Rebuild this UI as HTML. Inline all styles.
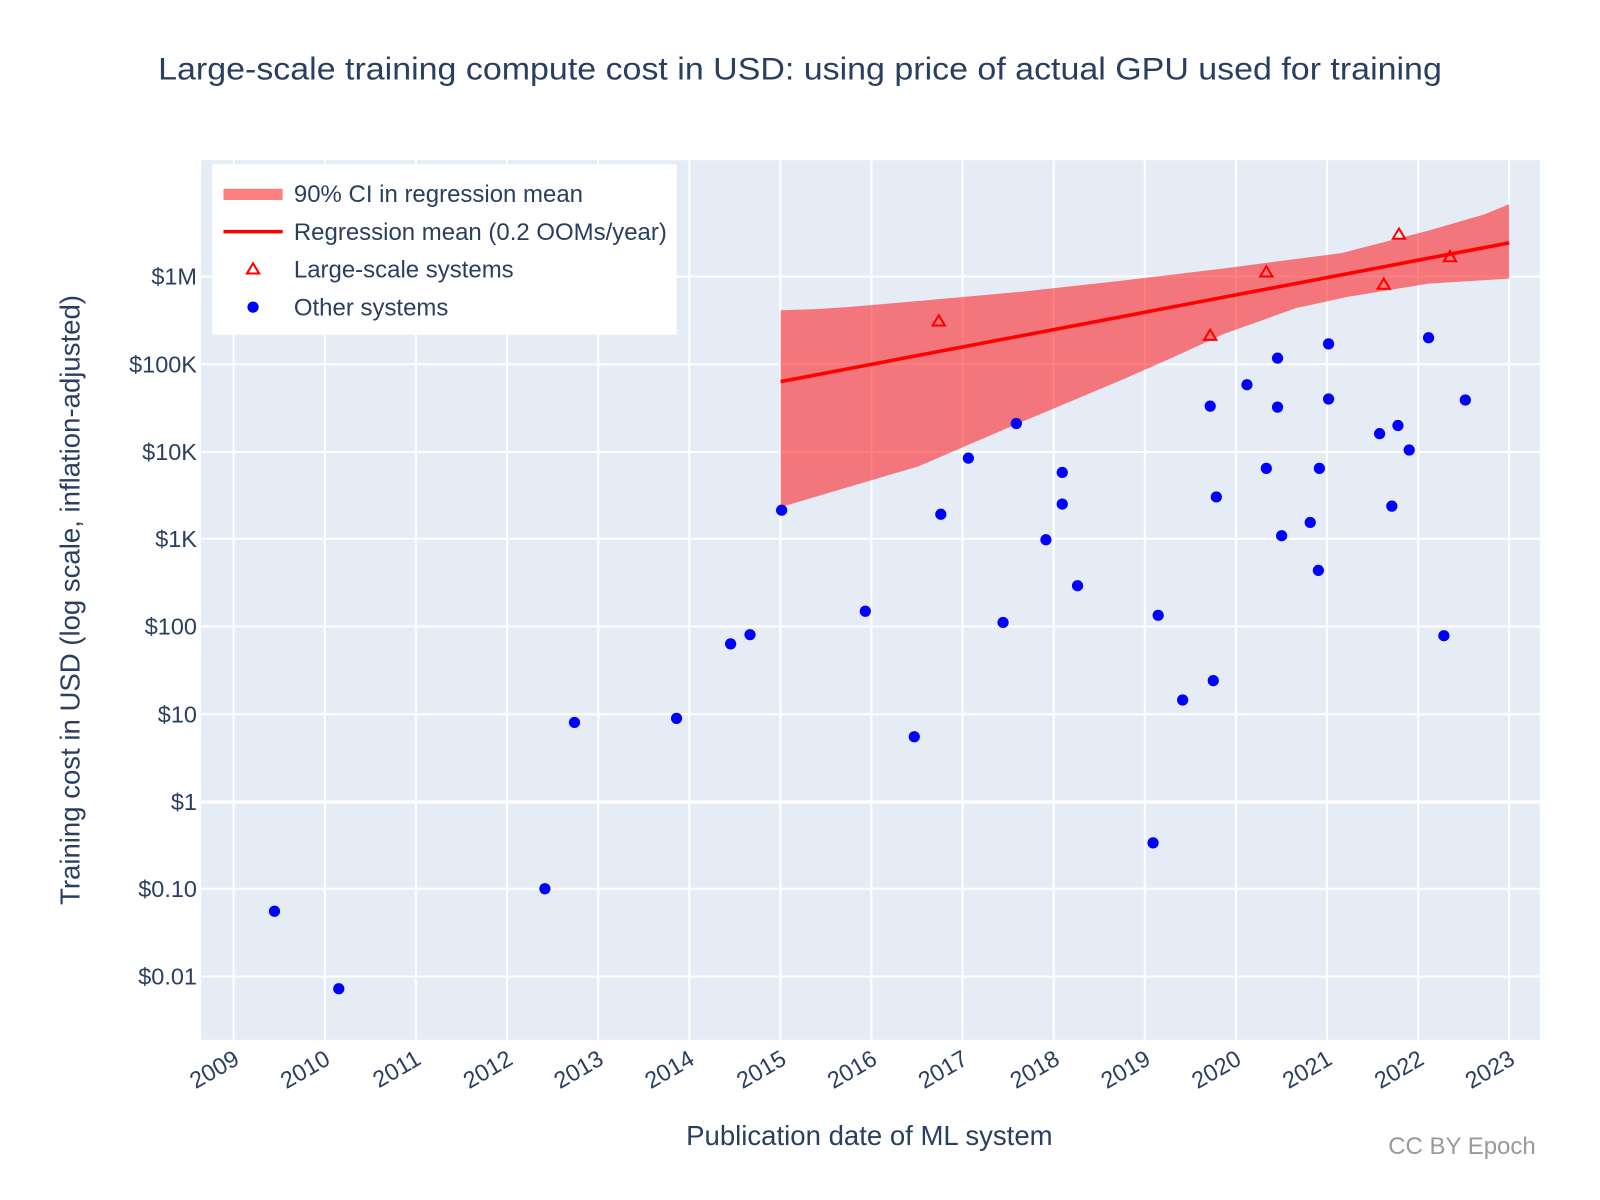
<!DOCTYPE html>
<html><head><meta charset="utf-8"><style>html,body{margin:0;padding:0;background:#fff}svg{display:block}</style></head>
<body>
<svg width="1600" height="1200" viewBox="0 0 1568 1176" xmlns="http://www.w3.org/2000/svg" font-family="Liberation Sans, Arial, sans-serif">
<rect x="0" y="0" width="1568" height="1176" fill="#fff"/>
<text x="784" y="78" text-anchor="middle" font-size="31" fill="#2a3f5f" textLength="1258" lengthAdjust="spacingAndGlyphs">Large-scale training compute cost in USD: using price of actual GPU used for training</text>
<rect x="197" y="157" width="1312" height="862" fill="#e5ecf6"/>
<g stroke="#fff" stroke-width="2">
<line x1="229" y1="157" x2="229" y2="1019"/><line x1="318.3" y1="157" x2="318.3" y2="1019"/><line x1="407.6" y1="157" x2="407.6" y2="1019"/><line x1="496.9" y1="157" x2="496.9" y2="1019"/><line x1="586.2" y1="157" x2="586.2" y2="1019"/><line x1="675.5" y1="157" x2="675.5" y2="1019"/><line x1="764.7" y1="157" x2="764.7" y2="1019"/><line x1="854" y1="157" x2="854" y2="1019"/><line x1="943.3" y1="157" x2="943.3" y2="1019"/><line x1="1032.6" y1="157" x2="1032.6" y2="1019"/><line x1="1121.9" y1="157" x2="1121.9" y2="1019"/><line x1="1211.2" y1="157" x2="1211.2" y2="1019"/><line x1="1300.5" y1="157" x2="1300.5" y2="1019"/><line x1="1389.8" y1="157" x2="1389.8" y2="1019"/><line x1="1479" y1="157" x2="1479" y2="1019"/>
<line x1="197" y1="271" x2="1509" y2="271"/><line x1="197" y1="357" x2="1509" y2="357"/><line x1="197" y1="443" x2="1509" y2="443"/><line x1="197" y1="528" x2="1509" y2="528"/><line x1="197" y1="614" x2="1509" y2="614"/><line x1="197" y1="700" x2="1509" y2="700"/><line x1="197" y1="786" x2="1509" y2="786" stroke-width="3"/><line x1="197" y1="871" x2="1509" y2="871"/><line x1="197" y1="957" x2="1509" y2="957"/>
</g>
<g font-size="23" fill="#2a3f5f" text-anchor="end">
<text x="193" y="279">$1M</text><text x="193" y="365">$100K</text><text x="193" y="451">$10K</text><text x="193" y="536">$1K</text><text x="193" y="622">$100</text><text x="193" y="708">$10</text><text x="193" y="794">$1</text><text x="193" y="879">$0.10</text><text x="193" y="965">$0.01</text>
</g>
<g font-size="23" fill="#2a3f5f" text-anchor="end">
<text transform="translate(236,1042) rotate(-30)">2009</text>
<text transform="translate(325,1042) rotate(-30)">2010</text>
<text transform="translate(414,1042) rotate(-30)">2011</text>
<text transform="translate(504,1042) rotate(-30)">2012</text>
<text transform="translate(593,1042) rotate(-30)">2013</text>
<text transform="translate(682,1042) rotate(-30)">2014</text>
<text transform="translate(772,1042) rotate(-30)">2015</text>
<text transform="translate(861,1042) rotate(-30)">2016</text>
<text transform="translate(950,1042) rotate(-30)">2017</text>
<text transform="translate(1040,1042) rotate(-30)">2018</text>
<text transform="translate(1129,1042) rotate(-30)">2019</text>
<text transform="translate(1218,1042) rotate(-30)">2020</text>
<text transform="translate(1307,1042) rotate(-30)">2021</text>
<text transform="translate(1397,1042) rotate(-30)">2022</text>
<text transform="translate(1486,1042) rotate(-30)">2023</text>
</g>
<text transform="translate(78,588) rotate(-90)" text-anchor="middle" font-size="27" fill="#2a3f5f">Training cost in USD (log scale, inflation-adjusted)</text>
<text x="852" y="1122" text-anchor="middle" font-size="27" fill="#2a3f5f">Publication date of ML system</text>
<text x="1505" y="1131" text-anchor="end" font-size="23.5" fill="#999">CC BY Epoch</text>
<polygon fill="#ff0000" fill-opacity="0.5" points="765,304 800,303 830,301 900,295 1000,286 1100,275 1200,263 1315,248 1400,226 1455,210 1479,200 1479,273 1400,278 1320,291 1270,302 1200,327 1150,350 1100,372 1000,414 900,457 765,497"/>
<line x1="765" y1="374" x2="1479" y2="238" stroke="#ff0000" stroke-width="3.5"/>
<g fill="#0000ff">
<circle cx="269" cy="893" r="5.5"/><circle cx="332" cy="969" r="5.5"/><circle cx="534" cy="871" r="5.5"/><circle cx="563" cy="708" r="5.5"/><circle cx="663" cy="704" r="5.5"/><circle cx="716" cy="631" r="5.5"/><circle cx="735" cy="622" r="5.5"/><circle cx="766" cy="500" r="5.5"/><circle cx="848" cy="599" r="5.5"/><circle cx="896" cy="722" r="5.5"/><circle cx="922" cy="504" r="5.5"/><circle cx="949" cy="449" r="5.5"/><circle cx="983" cy="610" r="5.5"/><circle cx="996" cy="415" r="5.5"/><circle cx="1025" cy="529" r="5.5"/><circle cx="1041" cy="463" r="5.5"/><circle cx="1041" cy="494" r="5.5"/><circle cx="1056" cy="574" r="5.5"/><circle cx="1130" cy="826" r="5.5"/><circle cx="1135" cy="603" r="5.5"/><circle cx="1159" cy="686" r="5.5"/><circle cx="1186" cy="398" r="5.5"/><circle cx="1189" cy="667" r="5.5"/><circle cx="1192" cy="487" r="5.5"/><circle cx="1222" cy="377" r="5.5"/><circle cx="1241" cy="459" r="5.5"/><circle cx="1252" cy="351" r="5.5"/><circle cx="1252" cy="399" r="5.5"/><circle cx="1256" cy="525" r="5.5"/><circle cx="1284" cy="512" r="5.5"/><circle cx="1292" cy="559" r="5.5"/><circle cx="1293" cy="459" r="5.5"/><circle cx="1302" cy="337" r="5.5"/><circle cx="1302" cy="391" r="5.5"/><circle cx="1352" cy="425" r="5.5"/><circle cx="1364" cy="496" r="5.5"/><circle cx="1370" cy="417" r="5.5"/><circle cx="1381" cy="441" r="5.5"/><circle cx="1400" cy="331" r="5.5"/><circle cx="1415" cy="623" r="5.5"/><circle cx="1436" cy="392" r="5.5"/>
</g>
<g fill="none" stroke="#ff0000" stroke-width="2">
<polygon points="920,309 926,319 914,319"/><polygon points="1186,323 1192,333 1180,333"/><polygon points="1241,261 1247,271 1235,271"/><polygon points="1356,273 1362,283 1350,283"/><polygon points="1371,224 1377,234 1365,234"/><polygon points="1421,246 1427,256 1415,256"/>
</g>
<rect x="208" y="161" width="455" height="167" fill="#fff"/>
<rect x="219" y="185" width="58" height="11" fill="#ff7f7f"/>
<line x1="219" y1="227" x2="277" y2="227" stroke="#ff0000" stroke-width="3.5"/>
<polygon points="248,258 254,268 242,268" fill="none" stroke="#ff0000" stroke-width="2"/>
<circle cx="248" cy="301" r="5.5" fill="#0000ff"/>
<g font-size="23.5" fill="#2a3f5f">
<text x="288" y="198">90% CI in regression mean</text>
<text x="288" y="235">Regression mean (0.2 OOMs/year)</text>
<text x="288" y="272">Large-scale systems</text>
<text x="288" y="309">Other systems</text>
</g>
</svg>
</body></html>
